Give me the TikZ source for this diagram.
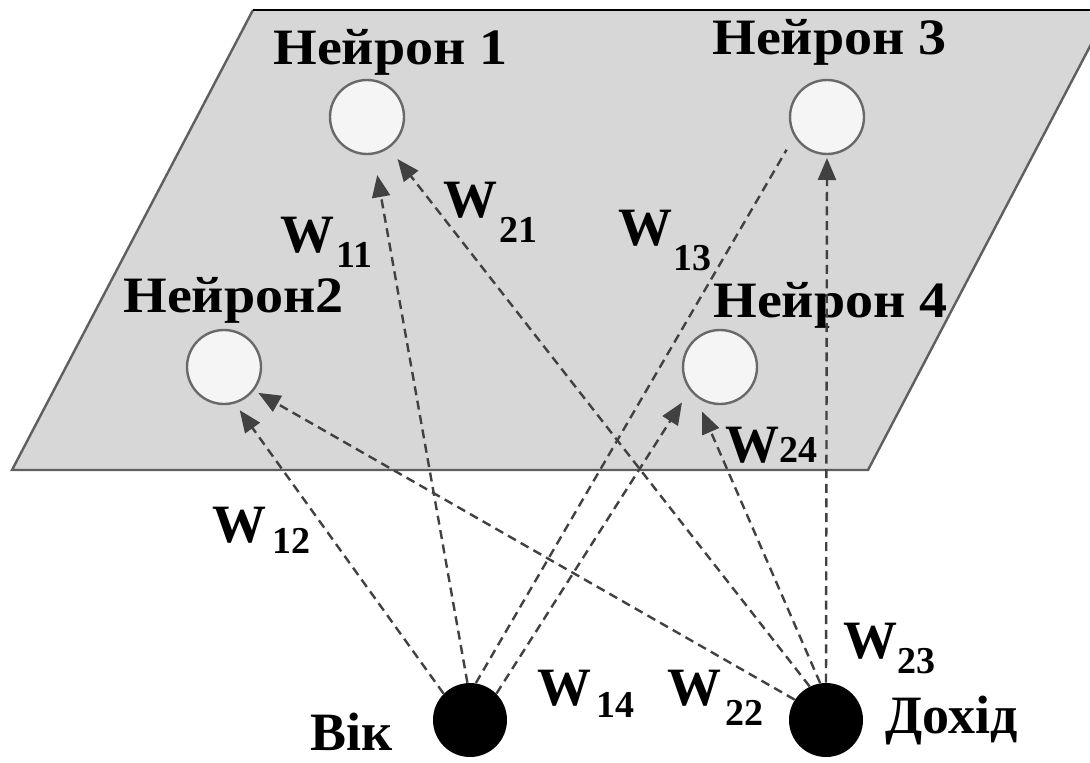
\documentclass[tikz,border=0pt]{standalone}
\usepackage{fontspec}
\setmainfont{Liberation Serif}
\usetikzlibrary{arrows.meta,calc}
\definecolor{plane}{RGB}{215,215,215}
\definecolor{edgecol}{RGB}{95,95,95}
\definecolor{conncol}{RGB}{65,65,65}
\definecolor{neufill}{RGB}{245,245,245}
\definecolor{neuedge}{RGB}{105,105,105}
\newcommand\wsub[3]{W\kern#3\raisebox{-#2}{\fontsize{19}{19}\selectfont #1}}
\newcommand\nlabtext[1]{\scalebox{1.1}[1]{#1}}
\begin{document}
\begin{tikzpicture}[x=0.5pt,y=0.5pt,
  neuron/.style={circle,draw=neuedge,fill=neufill,line width=1.2pt,minimum size=37pt,inner sep=0pt},
  inp/.style={circle,fill=black,minimum size=37pt,inner sep=0pt},
  conn/.style={draw=conncol,line width=1.2pt,dash pattern=on 4.5pt off 2.8pt,-{Triangle[length=11pt,width=9pt]}},
  connplain/.style={draw=conncol,line width=1.2pt,dash pattern=on 4.5pt off 2.8pt},
  nlab/.style={anchor=base west,inner sep=0pt,font=\fontsize{25.5}{25.5}\selectfont\bfseries},
  wlab/.style={anchor=base west,inner sep=0pt,font=\fontsize{27}{27}\selectfont\bfseries},
]
\useasboundingbox (0,0) rectangle (1090,762);
\begin{scope}
  \clip (0,0) rectangle (1090,762);
  \fill[plane] (12,292) -- (868,292) -- (1109,752) -- (253,752) -- cycle;
  \draw[edgecol,line width=1.2pt] (253,752) -- (12,292) -- (868,292) -- (1109,752);
  \draw[black,line width=1.2pt] (253,752) -- (1109,752);
\end{scope}

% neurons
\node[neuron] (n1) at (367,645) {};
\node[neuron] (n3) at (827,645) {};
\node[neuron] (n2) at (224,395) {};
\node[neuron] (n4) at (720,395) {};
\node[inp] (vik) at (470,42) {};
\node[inp] (doh) at (826,42) {};

% neuron labels
\node[nlab] (ln1) at (273,697) {\nlabtext{Нейрон 1}};
\node[nlab] (ln3) at (712,707) {\nlabtext{Нейрон 3}};
\node[nlab] (ln2) at (123,450) {\nlabtext{Нейрон2}};
\node[nlab] (ln4) at (713,445) {\nlabtext{Нейрон 4}};
\node[wlab] (lvik) at (310,12) {Вік};
\node[wlab] (ldoh) at (885,29) {Дохід};

% connectors
\draw[conn] (vik.135) -- ($(n2)+(-70:46)$);
\draw[conn] (vik.94) -- ($(n1)+(-80:59)$);
\draw[connplain] (vik.81) -- ($(n3)+(-141:52)$);
\draw[conn] (vik.45) -- ($(n4)+(-137:52)$);
\draw[conn] (doh.116) -- ($(n1)+(-54:52)$);
\draw[conn] (doh.147) -- ($(n2)+(-37:43)$);
\draw[conn] (doh.99) -- ($(n4)+(-112:48)$);
\draw[conn] (doh.90) -- ($(n3)+(-90:41)$);

% weight labels
\node[wlab] (w11) at (280,510) {\wsub{11}{7.5pt}{1pt}};
\node[wlab] (w21) at (443,545) {\wsub{21}{12.5pt}{1pt}};
\node[wlab] (w13) at (618,517) {\wsub{13}{12.5pt}{0.5pt}};
\node[wlab] (w24) at (725,300) {W{\fontsize{19}{19}\selectfont 24}};
\node[wlab] (w12) at (212,220) {\wsub{12}{5.5pt}{3pt}};
\node[wlab] (w14) at (537,57) {\wsub{14}{6pt}{2.5pt}};
\node[wlab] (w22) at (667,57) {\wsub{22}{10pt}{2pt}};
\node[wlab] (w23) at (843,104) {\wsub{23}{7.5pt}{0pt}};
\end{tikzpicture}
\end{document}
